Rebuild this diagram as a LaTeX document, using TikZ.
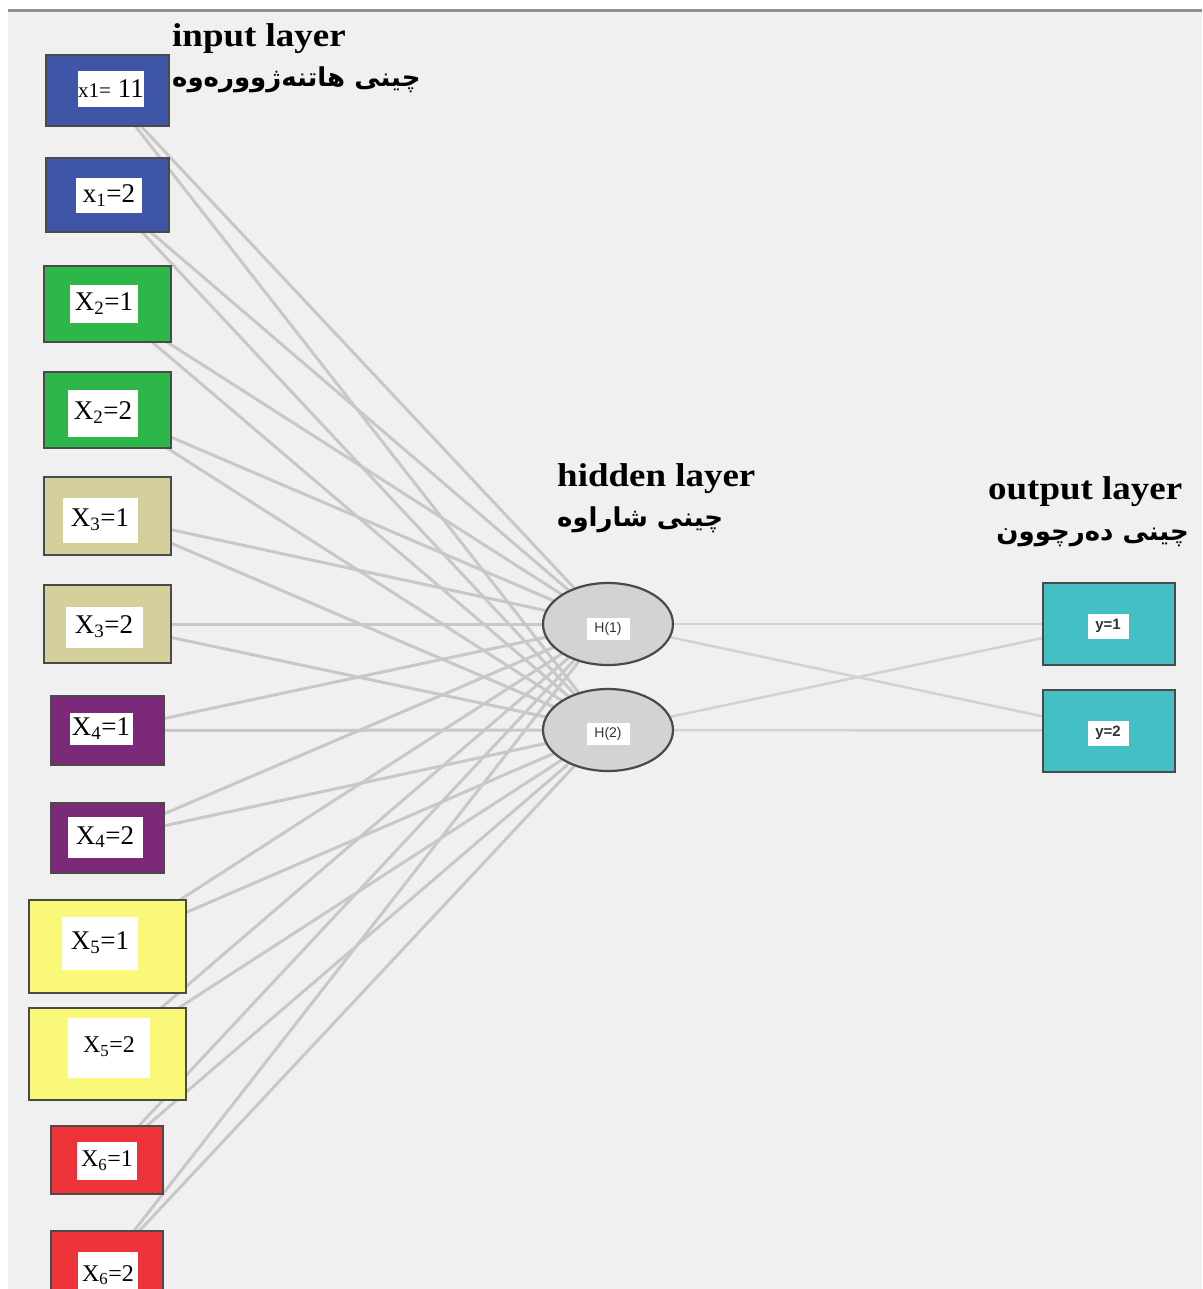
\documentclass[tikz,border=0pt]{standalone}
\usepackage{fontspec}
\setmainfont{Liberation Serif}
\newfontfamily\arabicfont[Script=Arabic]{DejaVu Sans}
\newfontfamily\lsans{Liberation Sans}
\TeXXeTstate=1
\usetikzlibrary{shapes.geometric}
\definecolor{bgrey}{HTML}{F0F0F0}
\definecolor{topline}{HTML}{8F8F8F}
\definecolor{bordergrey}{HTML}{4A4A4A}
\definecolor{linkgrey}{HTML}{C8C8C8}
\definecolor{linkgreyb}{HTML}{D2D2D2}
\definecolor{cblue}{HTML}{3F55A8}
\definecolor{cgreen}{HTML}{2DB74A}
\definecolor{ckhaki}{HTML}{D4CF9B}
\definecolor{cpurple}{HTML}{7B2978}
\definecolor{cyellow}{HTML}{FAF878}
\definecolor{cred}{HTML}{EE323A}
\definecolor{cteal}{HTML}{44C0C4}
\definecolor{hfill}{HTML}{D3D3D3}
\definecolor{tagtext}{HTML}{333333}
\pgfdeclarelayer{bg}
\pgfdeclarelayer{edges}
\pgfsetlayers{bg,edges,main}
\newcommand{\widetxt}[1]{\scalebox{1.12}[1]{#1}}
\tikzset{
  inbox/.style={draw=bordergrey, line width=2pt, inner sep=0pt},
  tag/.style={fill=white, inner sep=0pt, font=\fontsize{27}{27}\selectfont},
  htag/.style={fill=white, inner sep=0pt, minimum width=43pt, minimum height=22pt, text=tagtext, font=\lsans\fontsize{14}{14}\selectfont},
  otag/.style={fill=white, inner sep=0pt, minimum width=41pt, minimum height=25pt, text=tagtext, font=\lsans\bfseries\fontsize{15}{15}\selectfont},
  hnode/.style={ellipse, draw=bordergrey, line width=2.2pt, fill=hfill, minimum width=130pt, minimum height=82pt, inner sep=0pt},
  obox/.style={draw=bordergrey, line width=2pt, fill=cteal, minimum width=132pt, minimum height=82pt, inner sep=0pt},
  head/.style={inner sep=0pt, font=\bfseries\fontsize{33}{33}\selectfont},
  arhead/.style={inner sep=0pt, font=\arabicfont\bfseries\fontsize{26}{26}\selectfont},
  link/.style={draw=linkgrey, line width=3pt},
  linkb/.style={draw=linkgreyb, line width=2.5pt}
}
\begin{document}
\begin{tikzpicture}[x=1pt,y=-1pt]
\useasboundingbox (0,0) rectangle (1202,1289);
\clip (0,0) rectangle (1202,1289);
\begin{pgfonlayer}{bg}
\fill[white] (0,0) rectangle (1202,1289);
\fill[bgrey] (8,12) rectangle (1202,1289);
\draw[topline, line width=3pt] (8,11) -- (1202,11);
\end{pgfonlayer}

% input boxes
\node[inbox, fill=cblue,   minimum width=123pt, minimum height=71pt] (i1)  at (107.5,90.5) {};
\node[inbox, fill=cblue,   minimum width=123pt, minimum height=74pt] (i2)  at (107.5,195) {};
\node[inbox, fill=cgreen,  minimum width=127pt, minimum height=76pt] (i3)  at (107.5,304) {};
\node[inbox, fill=cgreen,  minimum width=127pt, minimum height=76pt] (i4)  at (107.5,410) {};
\node[inbox, fill=ckhaki,  minimum width=127pt, minimum height=78pt] (i5)  at (107.5,516) {};
\node[inbox, fill=ckhaki,  minimum width=127pt, minimum height=78pt] (i6)  at (107.5,624) {};
\node[inbox, fill=cpurple, minimum width=113pt, minimum height=69pt] (i7)  at (107.5,730.5) {};
\node[inbox, fill=cpurple, minimum width=113pt, minimum height=70pt] (i8)  at (107.5,838) {};
\node[inbox, fill=cyellow, minimum width=157pt, minimum height=93pt] (i9)  at (107.5,946.5) {};
\node[inbox, fill=cyellow, minimum width=157pt, minimum height=92pt] (i10) at (107.5,1054) {};
\node[inbox, fill=cred,    minimum width=112pt, minimum height=68pt] (i11) at (107,1160) {};
\node[inbox, fill=cred,    minimum width=112pt, minimum height=69pt] (i12) at (107,1265.5) {};

% labels in input boxes
\node[tag, minimum width=63pt, minimum height=36pt] (l1) at (111,89) {{\fontsize{21}{21}\selectfont x1=} 11};
\node[tag, minimum width=66pt, minimum height=35pt] (l2) at (109,196) {x\textsubscript{1}=2};
\node[tag, minimum width=68pt, minimum height=38pt] (l3) at (104,304) {X\textsubscript{2}=1};
\node[tag, minimum width=70pt, minimum height=47pt] (l4) at (103,413) {X\textsubscript{2}=2};
\node[tag, minimum width=75pt, minimum height=45pt] (l5) at (100,520) {X\textsubscript{3}=1};
\node[tag, minimum width=77pt, minimum height=41pt] (l6) at (104,627) {X\textsubscript{3}=2};
\node[tag, minimum width=63pt, minimum height=32pt] (l7) at (101,729) {X\textsubscript{4}=1};
\node[tag, minimum width=75pt, minimum height=41pt] (l8) at (105,837) {X\textsubscript{4}=2};
\node[tag, minimum width=76pt, minimum height=53pt] (l9) at (100,943) {X\textsubscript{5}=1};
\node[tag, minimum width=82pt, minimum height=60pt, font=\fontsize{24}{24}\selectfont] (l10) at (109,1048) {\raisebox{6pt}{X\textsubscript{5}=2}};
\node[tag, minimum width=60pt, minimum height=38pt, font=\fontsize{24}{24}\selectfont] (l11) at (107,1161) {X\textsubscript{6}=1};
\node[tag, minimum width=60pt, minimum height=46pt, font=\fontsize{24}{24}\selectfont] (l12) at (108,1275) {X\textsubscript{6}=2};

% hidden nodes
\node[hnode] (h1) at (608,624) {};
\node[hnode] (h2) at (608,730) {};
\node[htag] (ht1) at (608,629) {H(1)};
\node[htag] (ht2) at (608,734) {H(2)};

% output nodes
\node[obox] (o1) at (1109,624) {};
\node[obox] (o2) at (1109,730.5) {};
\node[otag] (ot1) at (1108,626) {y=1};
\node[otag] (ot2) at (1108,733) {y=2};

% headings
\node[head, anchor=base west] (t1) at (172,47) {\widetxt{input layer}};
\node[arhead, anchor=base west] (a1) at (172,87) {\beginR چینی هاتنەژوورەوە\endR};
\node[head, anchor=base west] (t2) at (557,486) {\widetxt{hidden layer}};
\node[arhead, anchor=base west] (a2) at (557,526) {\beginR چینی شاراوە\endR};
\node[head, anchor=base west] (t3) at (988,499) {\widetxt{output layer}};
\node[arhead, anchor=base east] (a3) at (1189,540) {\beginR چینی دەرچوون\endR};

% connectors
\begin{pgfonlayer}{edges}
\foreach \i in {1,...,12} {
  \draw[link] (i\i.center) -- (h1.center);
  \draw[link] (i\i.center) -- (h2.center);
}
\foreach \h in {h1,h2} {
  \draw[linkb] (\h.center) -- (o1.center);
  \draw[linkb] (\h.center) -- (o2.center);
}
\end{pgfonlayer}
\end{tikzpicture}
\end{document}
